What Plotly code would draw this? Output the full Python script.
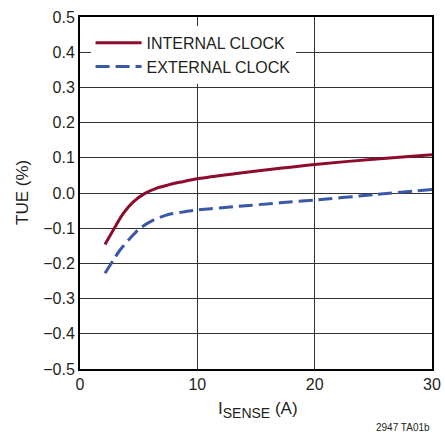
import plotly.graph_objects as go

x_int = [2.13, 2.84, 3.69, 4.54, 5.54, 6.54, 7.53, 8.6, 10.09, 13.5, 17.05, 20.0, 25.0, 30.0]
y_int = [-0.146, -0.105, -0.058, -0.025, -0.001, 0.014, 0.023, 0.031, 0.041, 0.056, 0.070, 0.081, 0.096, 0.109]
x_ext = [2.13, 2.8, 3.41, 4.26, 5.11, 6.25, 7.53, 8.6, 10.09, 13.5, 17.05, 20.0, 25.0, 30.0]
y_ext = [-0.228, -0.193, -0.162, -0.129, -0.100, -0.077, -0.061, -0.055, -0.048, -0.038, -0.028, -0.02, -0.005, 0.01]
y_ticks = [-0.5, -0.4, -0.3, -0.2, -0.1, 0.0, 0.1, 0.2, 0.3, 0.4, 0.5]
y_labels = ["\u22120.5", "\u22120.4", "\u22120.3", "\u22120.2", "\u22120.1",
            "0.0", "0.1", "0.2", "0.3", "0.4", "0.5"]
x_ticks = [0, 10, 20, 30]

FONT = "Liberation Sans, Arial, sans-serif"
INK = "#231F20"

fig = go.Figure()
fig.add_trace(go.Scatter(x=x_int, y=y_int, mode="lines", name="INTERNAL CLOCK",
                         line=dict(color="#8E0B2E", width=3, shape="spline", smoothing=0.8)))
fig.add_trace(go.Scatter(x=x_ext, y=y_ext, mode="lines", name="EXTERNAL CLOCK",
                         line=dict(color="#3B57A7", width=3, dash="14px,6px", shape="spline", smoothing=0.7)))

fig.update_layout(
    width=445, height=434,
    margin=dict(l=80, r=13, t=17, b=65, autoexpand=False),
    paper_bgcolor="white", plot_bgcolor="white",
    font=dict(family=FONT, size=15, color=INK),
    showlegend=True,
    legend=dict(x=0.03, y=0.975, xanchor="left", yanchor="top",
                bgcolor="white", borderwidth=0, font=dict(size=16, family=FONT, color=INK),
                itemwidth=46, tracegroupgap=0),
    xaxis=dict(range=[0, 30], tickvals=x_ticks, showgrid=True, automargin=False,
               gridcolor="#333333", gridwidth=1, zeroline=False,
               showline=True, linecolor="black", linewidth=2, mirror=True,
               ticks="", tickfont=dict(size=16), fixedrange=True),
    yaxis=dict(range=[-0.5, 0.5], tickvals=y_ticks, ticktext=y_labels, automargin=False,
               showgrid=True, gridcolor="#333333", gridwidth=1, zeroline=False,
               showline=True, linecolor="black", linewidth=2, mirror=True,
               ticks="", tickfont=dict(size=16), fixedrange=True),
)
fig.add_annotation(text="I<sub><span style='font-size:14px'>SENSE</span></sub> (A)", xref="paper", yref="paper",
                   x=(258 - 80) / 352, y=(369 - 410) / 352, xanchor="center", yanchor="middle",
                   showarrow=False, font=dict(size=17))
fig.add_annotation(text="TUE (%)", xref="paper", yref="paper", textangle=-90,
                   x=(22 - 80) / 352, y=0.5, xanchor="center", yanchor="middle",
                   showarrow=False, font=dict(size=17))
fig.add_annotation(text="2947 TA01b", xref="paper", yref="paper", x=1.0, y=(369 - 427) / 352,
                   xanchor="right", yanchor="middle", showarrow=False, font=dict(size=10))

fig.write_html("out.html", config={"displayModeBar": False},
               post_script="document.body.style.margin='0';document.body.style.overflow='hidden';")
